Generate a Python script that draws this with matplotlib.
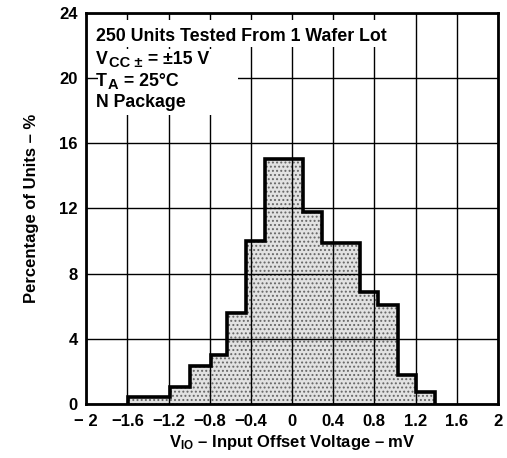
import numpy as np
import matplotlib
matplotlib.use("Agg")
import matplotlib.pyplot as plt
from matplotlib.patches import Rectangle

# --- data ---
BIN_EDGES = [-1.59, -1.19, -0.99, -0.79, -0.63, -0.45, -0.26, 0.11, 0.29, 0.66, 0.84, 1.03, 1.20, 1.39]
PERCENT = [0.45, 1.05, 2.35, 3.0, 5.6, 10.0, 15.0, 11.8, 9.9, 6.9, 6.05, 1.8, 0.75]
X_TICKS = [-2, -1.6, -1.2, -0.8, -0.4, 0, 0.4, 0.8, 1.2, 1.6, 2]
X_LABELS = ["\u2212 2", "\u22121.6", "\u22121.2", "\u22120.8", "\u22120.4", "0", "0.4", "0.8", "1.2", "1.6", "2"]
Y_TICKS = [0, 4, 8, 12, 16, 20, 24]
# each note line: list of (text, is_subscript)
NOTES = [[("250 Units Tested From 1 Wafer Lot", False)],
         [("V", False), ("CC \u00b1", True), (" = \u00b115 V", False)],
         [("T", False), ("A", True), (" = 25\u00b0C", False)],
         [("N Package", False)]]

plt.rcParams["font.family"] = ["Liberation Sans", "DejaVu Sans"]
plt.rcParams["font.weight"] = "bold"
plt.rcParams["mathtext.fontset"] = "custom"
plt.rcParams["mathtext.rm"] = "Liberation Sans:bold"
plt.rcParams["mathtext.it"] = "Liberation Sans:bold"
plt.rcParams["mathtext.bf"] = "Liberation Sans:bold"
plt.rcParams["hatch.linewidth"] = 0.9
plt.rcParams["hatch.color"] = "#666666"

fig = plt.figure(figsize=(5.07, 4.58), dpi=100)
ax = fig.add_axes([0.170, 0.118, 0.812, 0.854])

edges = np.array(BIN_EDGES)
widths = np.diff(edges)
ax.bar(edges[:-1], PERCENT, width=widths, align="edge", color="#e2e2e2",
       edgecolor="#666666", linewidth=0, hatch="....", zorder=1)
ax.stairs(PERCENT, edges, baseline=0, color="black", linewidth=2.6, zorder=3)

ax.set_xlim(-2, 2)
ax.set_ylim(0, 24)
ax.set_xticks(X_TICKS)
ax.set_xticklabels(X_LABELS)
ax.set_yticks(Y_TICKS)
ax.tick_params(length=0, labelsize=12, pad=6)
ax.tick_params(axis="x", pad=7)
ax.grid(True, color="black", linewidth=1.0)
for s in ax.spines.values():
    s.set_linewidth(2.0)

# white blocks behind the notes (grid stubs stay visible around them)
ax.add_patch(Rectangle((0.029, 0.912), 0.72, 0.070, transform=ax.transAxes,
                       facecolor="white", edgecolor="none", zorder=2.7))
ax.add_patch(Rectangle((0.029, 0.739), 0.34, 0.168, transform=ax.transAxes,
                       facecolor="white", edgecolor="none", zorder=2.7))

renderer = fig.canvas.get_renderer()
ys = [0.928, 0.870, 0.813, 0.760]
for parts, y in zip(NOTES, ys):
    x = 0.023
    for txt, sub in parts:
        size = 10.5 if sub else 12.8
        yy = y - 0.009 if sub else y
        t = ax.text(x, yy, txt, transform=ax.transAxes, fontsize=size,
                    fontweight="bold", va="baseline", ha="left", zorder=4)
        bb = t.get_window_extent(renderer)
        x = ax.transAxes.inverted().transform((bb.x1 + 1, bb.y0))[0]

ax.set_ylabel("Percentage of Units \u2013 %", fontsize=12, fontweight="bold", labelpad=15)
ax.set_xlabel("V$_{\\mathrm{IO}}$ \u2013 Input Offset Voltage \u2013 mV", fontsize=12,
              fontweight="bold", labelpad=3)

fig.savefig("out.png", dpi=100)
